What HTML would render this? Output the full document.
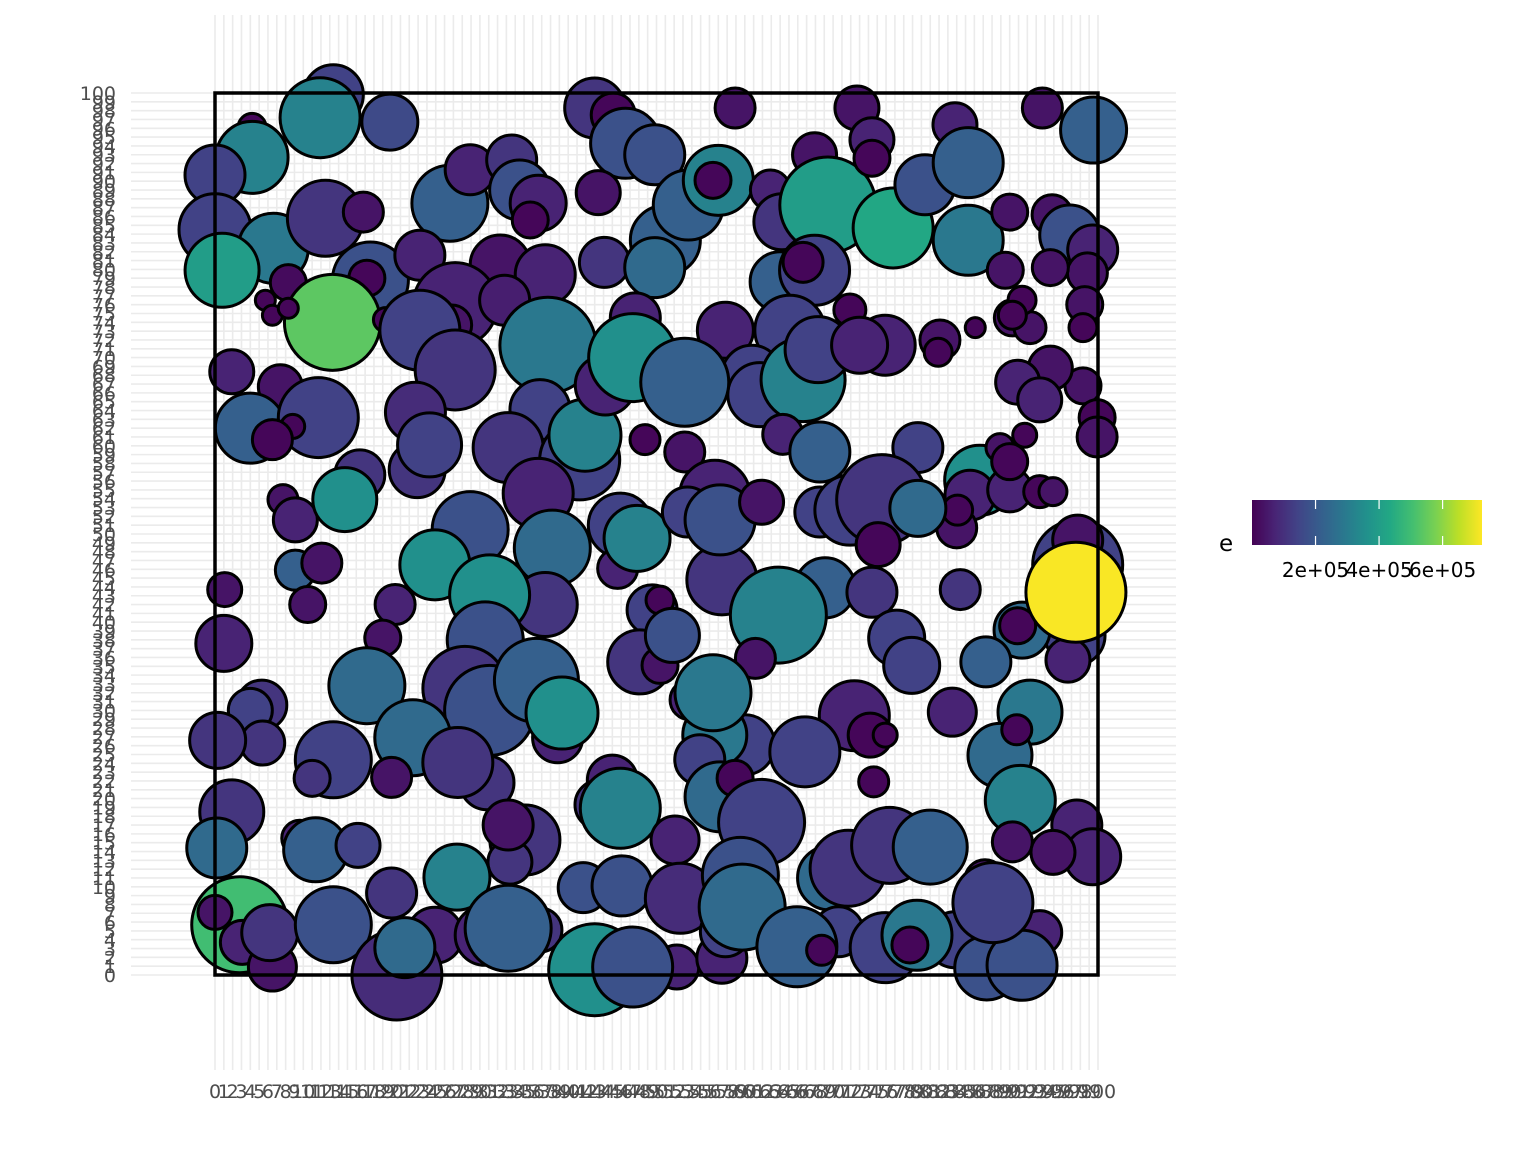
<!DOCTYPE html>
<html><head><meta charset="utf-8"><style>
html,body{margin:0;padding:0;background:#fff;}
svg{display:block;font-family:"DejaVu Sans","Liberation Sans",sans-serif;}
</style></head><body>
<svg id="chart" width="1536" height="1152" viewBox="0 0 1536 1152" xmlns="http://www.w3.org/2000/svg">
<defs><linearGradient id="vir" x1="0" x2="1" y1="0" y2="0">
<stop offset="0" stop-color="#440154"/><stop offset="0.1" stop-color="#482475"/><stop offset="0.2" stop-color="#414487"/><stop offset="0.3" stop-color="#355f8d"/><stop offset="0.4" stop-color="#2a788e"/><stop offset="0.5" stop-color="#21918c"/><stop offset="0.6" stop-color="#22a884"/><stop offset="0.7" stop-color="#44bf70"/><stop offset="0.8" stop-color="#7ad151"/><stop offset="0.9" stop-color="#bddf26"/><stop offset="1" stop-color="#fde725"/>
</linearGradient></defs>
<g id="grid"></g>
<g id="marks"></g>
<rect x="215" y="93" width="883" height="882" fill="none" stroke="#000" stroke-width="3.5"/>
<g id="yticks"></g>
<g id="xticks"></g>
<g id="legend">
<text x="1219" y="551" font-size="23" fill="#000">e</text>
<rect x="1252" y="500" width="230" height="45" fill="url(#vir)"/>
</g>
</svg>
<script>
const xs = [
13.4,11.9,19.8,4.2,4.2,0,0,6.6,0.8,12.5,
16.8,8.3,17.6,17.2,13.3,19.3,5.7,6.5,8.3,26.6,
28.9,33.6,34.5,36.6,35.7,32.3,37.4,23.2,27.2,32.8,
26.8,23.2,27.2,22.7,37.7,36.8,33.2,41.3,41.9,36.6,
22.9,24.3,43.0,45.1,46.5,49.8,43.4,44.1,51.0,53.6,
49.8,58.9,57.0,56.4,62.9,67.9,64.2,69.4,76.8,72.7,
74.4,74.4,80.4,83.8,85.3,85.3,90.0,93.7,99.5,94.8,
96.8,99.4,98.8,94.6,89.5,64.0,67.9,66.6,71.9,65.1,
57.8,60.8,61.7,66.6,68.3,47.6,44.2,47.3,53.2,75.9,
73.0,82.1,81.9,86.1,90.3,92.3,91.4,90.3,98.5,98.3,
98.3,94.6,90.9,93.4,99.9,99.9,91.7,1.9,7.4,4.0,
11.7,8.8,6.5,48.7,53.2,64.3,68.5,79.6,86.6,88.9,
85.5,90.0,90.0,93.4,94.9,84.0,84.1,7.7,9.1,16.4,
14.7,28.9,38.2,45.9,45.6,47.8,56.6,53.5,57.4,57.2,
61.9,68.5,71.9,75.5,79.6,75.1,37.4,24.9,31.1,97.7,
97.7,97.4,96.6,91.4,90.9,87.3,84.4,
1.1,9.1,12.1,10.5,20.4,19.0,1.0,
69.1,74.4,77.2,78.9,63.8,61.2,49.5,50.4,48.1,50.4,51.8,
30.6,28.3,31.1,36.4,38.8,39.3,17.2,22.4,5.3,4.0,5.4,0.3,
53.8,60.0,56.6,56.4,54.9,72.4,74.2,75.9,66.8,74.6,83.5,92.3,88.9,90.8,91.2,
1.9,0.2,9.6,11.4,16.2,13.4,11.0,20.0,30.8,27.5,35.1,33.4,33.2,27.4,
45.0,43.6,57.2,45.9,58.9,61.9,52.1,69.6,71.7,76.4,81.0,90.3,97.6,99.4,94.9,87.2,
2.8,0,3.1,6.5,6.2,20.0,13.4,24.9,20.6,21.5,30.6,36.8,33.2,
41.7,46.1,52.7,59.5,52.3,57.4,57.8,59.7,43.0,47.3,
70.6,65.9,68.7,75.9,83.8,79.5,78.7,87.4,93.4,91.4,88.1,
97.5];
const ys = [
99.8,97.2,96.7,96.1,92.7,90.7,84.5,82.4,79.9,85.8,
86.5,78.5,78.8,79.0,74.0,74.3,76.5,74.8,75.6,87.5,
91.3,92.4,89.0,87.5,85.6,80.5,79.4,81.6,76.0,76.5,
73.7,73.1,68.6,63.8,71.4,64.1,59.8,58.4,61.2,54.6,
57.3,60.1,98.3,97.5,94.3,93.0,88.7,80.8,83.3,87.3,
80.2,98.3,90.1,90.1,89.0,93.0,85.4,87.3,84.7,98.3,
94.7,92.6,89.6,96.4,92.1,83.3,86.5,98.3,95.8,86.2,
83.9,82.2,79.6,80.2,79.9,78.6,79.9,80.8,75.4,73.1,
73.1,68.0,65.8,67.5,70.9,74.5,66.9,70.0,67.2,71.4,
71.4,72.0,70.6,73.4,74.5,73.4,76.5,74.8,76.0,73.4,
66.8,68.8,67.2,65.2,63.2,61.0,61.2,68.4,66.7,62.0,
63.2,62.2,60.7,60.7,59.3,61.3,59.3,59.8,56.1,59.8,
54.4,55.0,58.2,54.8,54.8,50.7,52.7,53.9,51.6,56.7,
53.9,50.5,48.4,51.0,46.1,49.5,54.4,52.5,44.8,51.6,
53.6,52.5,52.7,53.9,52.9,48.8,42.0,46.5,43.1,46.5,
49.3,38.5,35.7,39.1,39.6,35.5,43.7,
43.7,45.9,46.7,42.0,42.0,38.2,37.6,
43.9,43.4,38.2,35.1,40.8,35.9,41.4,42.5,35.5,35.1,38.5,
38.0,32.5,30.0,33.4,26.9,29.7,32.8,26.9,30.6,30.0,26.3,26.6,
31.2,26.1,27.2,32.0,24.4,29.4,27.2,27.2,25.3,21.9,29.8,29.8,24.9,27.8,19.8,
18.5,14.4,15.5,14.2,14.7,24.4,22.3,22.4,21.8,24.1,15.3,12.8,17.0,11.1,
22.1,19.3,20.2,18.9,22.3,17.3,15.3,11.0,12.1,14.7,14.5,15.1,17.0,13.4,13.9,10.8,
5.7,7.1,3.7,0.9,4.8,9.3,5.7,4.5,0,3.1,4.5,5.1,5.3,
9.9,10.1,8.7,11.3,0.9,1.9,4.9,7.7,0.6,0.9,
4.9,3.2,2.8,3.1,4.0,4.5,3.4,0.8,4.8,1.1,8.2,
43.4];
const sizes = [
3.0,4.0,2.8,1.4,3.6,3.0,3.6,3.5,3.7,3.8,
2.0,1.8,3.8,1.8,4.8,1.2,1.0,1.0,1.0,3.8,
2.5,2.5,3.0,2.8,1.8,3.0,3.0,2.5,4.2,2.5,
2.0,4.0,4.0,3.0,4.8,3.0,3.5,4.0,3.6,3.5,
2.8,3.2,3.0,2.2,3.5,3.0,2.2,2.5,3.5,3.5,
3.0,2.0,3.5,1.8,2.0,2.2,2.8,4.8,4.0,2.2,
2.2,1.8,3.0,2.2,3.5,3.5,1.8,2.0,3.3,2.0,
3.0,2.5,2.0,1.8,1.8,3.0,3.5,2.0,1.6,3.5,
2.8,3.0,3.2,4.2,3.3,2.5,3.0,4.4,4.4,3.0,
2.8,2.0,1.4,1.0,1.8,1.6,1.4,1.4,1.8,1.4,
1.8,2.2,2.2,2.2,1.8,2.0,1.2,2.2,2.2,3.5,
4.0,1.2,2.0,1.5,2.0,2.0,3.0,2.5,3.5,1.4,
2.5,2.2,1.8,1.6,1.4,2.0,1.5,1.5,2.2,2.5,
3.2,3.8,3.8,3.2,2.0,3.3,3.5,2.5,3.5,3.5,
2.2,2.5,3.5,4.5,2.8,2.2,3.2,3.5,4.0,4.5,
2.5,3.0,2.2,2.8,1.8,2.5,2.0,
1.7,2.0,2.0,1.8,2.0,1.8,2.8,
3.0,2.5,2.8,2.8,4.8,2.0,2.5,1.4,3.2,1.8,2.7,
3.8,4.2,4.5,4.2,2.5,3.6,3.8,3.8,2.5,2.2,2.2,2.8,
2.0,3.0,3.2,3.8,2.5,3.5,2.2,1.2,3.5,1.5,2.4,3.2,3.2,1.5,3.5,
3.2,3.0,1.8,3.2,2.2,3.8,1.8,2.0,2.7,3.5,3.5,2.2,2.5,3.3,
2.5,2.5,3.5,4.0,1.8,4.3,2.4,3.2,3.8,3.8,3.7,2.0,2.5,2.8,2.2,2.0,
4.8,1.7,2.2,2.4,2.8,2.5,3.8,2.8,4.5,3.0,3.0,2.2,4.3,
2.5,3.0,3.5,3.8,2.2,2.5,2.5,4.3,4.6,4.0,
2.5,4.0,1.5,3.5,2.8,3.5,1.8,3.2,2.2,3.5,4.0,
5.0];
// e values in units of 1e4
const eVals = [
14,32,16,1,32,14,14,29,40,11,
4,2,18,1,54,1,1,1,1,22,
7,11,18,7,1,4,7,7,7,6,
4,14,11,9,29,14,11,14,32,7,
11,14,11,1,18,18,4,11,22,22,
25,4,32,1,7,4,11,40,43,4,
7,1,18,7,22,29,4,4,22,4,
18,7,4,4,4,22,14,1,1,14,
7,14,14,32,14,7,7,36,22,7,
7,4,1,1,4,4,1,1,4,1,
4,4,7,7,1,4,1,7,4,22,
14,1,1,1,4,7,22,14,36,4,
7,7,1,1,4,4,1,4,7,11,
36,18,25,14,7,32,7,14,11,18,
4,14,14,11,25,1,11,36,36,14,
4,14,7,25,1,22,11,
4,22,4,4,7,4,7,
22,11,14,14,32,4,14,1,11,4,18,
18,11,18,22,7,36,25,25,11,14,11,11,
7,14,29,29,14,7,1,1,14,1,7,29,25,1,32,
11,25,7,22,14,14,11,4,11,11,11,11,4,32,
7,11,25,32,1,14,7,25,11,11,22,4,7,7,4,4,
50,4,7,4,11,11,18,7,9,25,7,11,22,
18,18,9,18,7,7,14,25,36,18,
14,22,1,14,14,29,1,18,7,18,14,
72];
const legendTicks = [20, 40, 60];
const legendTickLabels = ["2e+05", "4e+05", "6e+05"];
const eMax = 72.4;

const NS = "http://www.w3.org/2000/svg";
const X0 = 215, X1 = 1098, Y0 = 975, Y1 = 93;
function sx(v){ return X0 + v/100*(X1-X0); }
function sy(v){ return Y0 - v/100*(Y0-Y1); }
function sr(s){ return s*10; }
const stops = ["#440154","#482475","#414487","#355f8d","#2a788e","#21918c","#22a884","#44bf70","#7ad151","#bddf26","#fde725"];
function hex(h){ return [parseInt(h.substr(1,2),16),parseInt(h.substr(3,2),16),parseInt(h.substr(5,2),16)]; }
function viridis(t){
  t = Math.max(0, Math.min(1, t));
  const p = t*10, i = Math.min(9, Math.floor(p)), f = p - i;
  const a = hex(stops[i]), b = hex(stops[i+1]);
  return "rgb(" + a.map((v,k)=>Math.round(v+(b[k]-v)*f)).join(",") + ")";
}
function mk(tag, attrs, parent){
  const el = document.createElementNS(NS, tag);
  for (const k in attrs) el.setAttribute(k, attrs[k]);
  parent.appendChild(el);
  return el;
}
const grid = document.getElementById("grid");
for (let i = 0; i <= 100; i++) {
  const h = mk("line", {x1:131, x2:1176, y1:sy(i), y2:sy(i), stroke:"#ebebeb", "stroke-width":1.6}, grid);
  
  
  const v = mk("line", {x1:sx(i), x2:sx(i), y1:15, y2:1070, stroke:"#ebebeb", "stroke-width":1.6}, grid);
  
  
}
const yt = document.getElementById("yticks"), xt = document.getElementById("xticks");
for (let i = 0; i <= 100; i++) {
  const t = mk("text", {x:116, y:sy(i)+7, "text-anchor":"end", "font-size":19, fill:"#4d4d4d"}, yt);
  t.textContent = String(i);
  
  
  const u = mk("text", {x:sx(i), y:1098, "text-anchor":"middle", "font-size":19, fill:"#4d4d4d"}, xt);
  u.textContent = String(i);
  
  
}
const marks = document.getElementById("marks");
for (let i = 0; i < xs.length; i++) {
  const c = mk("circle", {cx:sx(xs[i]), cy:sy(ys[i]), r:sr(sizes[i]), fill:viridis(eVals[i]/eMax), stroke:"#000", "stroke-width":3}, marks);
  
  
}
const lg = document.getElementById("legend");
legendTicks.forEach((v, i) => {
  const x = 1252 + v/eMax*230;
  const a = mk("line", {x1:x, x2:x, y1:500, y2:509, stroke:"#fff", "stroke-width":1.2}, lg);
  
  
  const b = mk("line", {x1:x, x2:x, y1:536, y2:545, stroke:"#fff", "stroke-width":1.2}, lg);
  
  
  const t = mk("text", {x:x, y:577, "text-anchor":"middle", "font-size":20, fill:"#000"}, lg);
  t.textContent = legendTickLabels[i];
  
  
});
</script>
</body></html>
